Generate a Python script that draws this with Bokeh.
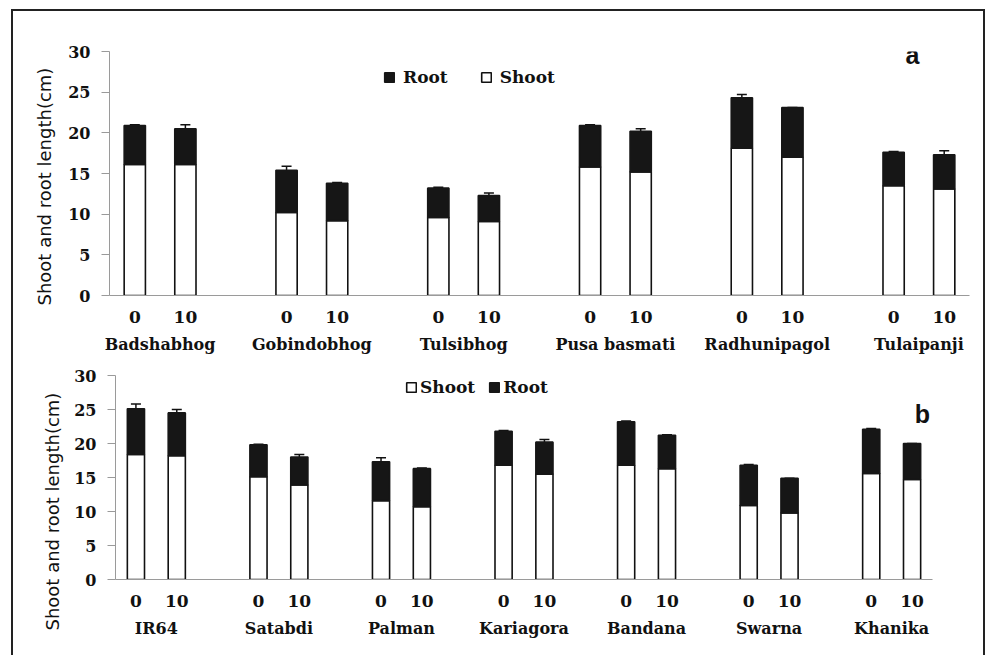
from bokeh.plotting import figure
from bokeh.models import (FactorRange, Whisker, TeeHead, ColumnDataSource, Legend,
                          LegendItem, Label, FixedTicker, Title)
from bokeh.layouts import column, row
from bokeh.embed import file_html
from bokeh.resources import INLINE

# ---------------- data ----------------
doses = ["0", "10"]
y_ticks = [0, 5, 10, 15, 20, 25, 30]
y_title = "Shoot and root length(cm)"

groups_a = ["Badshabhog", "Gobindobhog", "Tulsibhog", "Pusa basmati", "Radhunipagol", "Tulaipanji"]
shoot_a = [16.1, 16.1, 10.2, 9.2, 9.6, 9.1, 15.8, 15.2, 18.1, 17.0, 13.5, 13.1]
root_a = [4.8, 4.4, 5.2, 4.6, 3.6, 3.2, 5.1, 5.0, 6.2, 6.1, 4.1, 4.2]
shoot_err_a = [0.5, 0.5, 0.5, 0.4, 0.3, 0.5, 0.4, 0.4, 0.7, 0.0, 0.5, 0.3]
total_err_a = [0.1, 0.5, 0.5, 0.1, 0.1, 0.3, 0.1, 0.3, 0.4, 0.0, 0.1, 0.5]

groups_b = ["IR64", "Satabdi", "Palman", "Kariagora", "Bandana", "Swarna", "Khanika"]
shoot_b = [18.4, 18.2, 15.1, 13.9, 11.6, 10.7, 16.8, 15.5, 16.8, 16.3, 10.9, 9.8, 15.6, 14.7]
root_b = [6.7, 6.3, 4.7, 4.1, 5.7, 5.6, 5.0, 4.7, 6.4, 4.9, 5.9, 5.1, 6.5, 5.3]
shoot_err_b = [0.9, 0.7, 0.0, 0.8, 0.6, 0.4, 0.5, 0.4, 0.0, 0.3, 0.5, 0.0, 0.0, 0.0]
total_err_b = [0.7, 0.5, 0.1, 0.4, 0.6, 0.1, 0.1, 0.4, 0.1, 0.1, 0.1, 0.0, 0.1, 0.0]

SERIF = "DejaVu Serif"


def make_panel(groups, shoot, root, shoot_err, total_err, width, height, borders,
               legend_order, legend_loc, legend_standoff, legend_spacing, tag, tag_xy,
               title_standoff, title_offset):
    factors = [(g, d) for g in groups for d in doses]
    total = [s + r for s, r in zip(shoot, root)]
    src = ColumnDataSource(dict(
        x=factors, shoot=shoot, root=root, total=total,
        shoot_lo=[s - e for s, e in zip(shoot, shoot_err)],
        total_hi=[t + e for t, e in zip(total, total_err)],
    ))
    xr = FactorRange(*factors, factor_padding=0, group_padding=1, range_padding=0)
    p = figure(x_range=xr, y_range=(0, 30), width=width, height=height,
               output_backend="svg", toolbar_location=None,
               min_border_left=borders[0], min_border_right=borders[1],
               min_border_top=borders[2], min_border_bottom=borders[3])
    p.outline_line_color = None
    p.xgrid.grid_line_color = None
    p.ygrid.grid_line_color = None
    p.background_fill_color = "white"
    p.border_fill_color = "white"

    shoot_r = p.vbar(x="x", top="shoot", bottom=0, width=0.42, source=src,
                     fill_color="white", line_color="#111111", line_width=1.6)
    root_r = p.vbar(x="x", top="total", bottom="shoot", width=0.42, source=src,
                    fill_color="#161616", line_color="#161616", line_width=1.6)

    p.add_layout(Whisker(base="x", upper="shoot", lower="shoot_lo", source=src,
                         upper_head=None, lower_head=TeeHead(size=10, line_width=1.5, line_color="#111"),
                         line_width=1.5, line_color="#111"))
    p.add_layout(Whisker(base="x", upper="total_hi", lower="total", source=src,
                         lower_head=None, upper_head=TeeHead(size=10, line_width=1.5, line_color="#111"),
                         line_width=1.5, line_color="#111"))

    # y axis
    p.yaxis.ticker = FixedTicker(ticks=y_ticks)
    p.yaxis.minor_tick_line_color = None
    p.yaxis.axis_line_color = "#9a9a9a"
    p.yaxis.major_tick_line_color = "#9a9a9a"
    p.yaxis.major_tick_out = 8
    p.yaxis.major_tick_in = 0
    p.yaxis.major_label_text_font = SERIF
    p.yaxis.major_label_text_font_style = "bold"
    p.yaxis.major_label_text_font_size = "16px"
    p.yaxis.major_label_text_color = "#111"
    p.yaxis.major_label_standoff = 11

    p.add_layout(Title(text=y_title, text_font="DejaVu Sans", text_font_style="normal",
                       text_font_size="18px", text_color="#111", align="left",
                       standoff=title_standoff, offset=title_offset), "left")

    # x axis
    p.xaxis.axis_line_color = "#9a9a9a"
    p.xaxis.axis_line_width = 1.2
    p.xaxis.major_tick_line_color = None
    p.xaxis.minor_tick_line_color = None
    p.xaxis.separator_line_color = None
    p.xaxis.major_label_text_font = SERIF
    p.xaxis.major_label_text_font_style = "bold"
    p.xaxis.major_label_text_font_size = "17px"
    p.xaxis.major_label_text_color = "#111"
    p.xaxis.major_label_standoff = 9
    p.xaxis.group_text_font = SERIF
    p.xaxis.group_text_font_style = "bold"
    p.xaxis.group_text_font_size = "16px"
    p.xaxis.group_text_color = "#111"

    rmap = {"Root": root_r, "Shoot": shoot_r}
    legend = Legend(items=[LegendItem(label=k, renderers=[rmap[k]]) for k in legend_order],
                    location=legend_loc, orientation="horizontal",
                    border_line_color=None, background_fill_alpha=0,
                    label_text_font=SERIF, label_text_font_style="bold",
                    label_text_font_size="17px", label_text_color="#111",
                    glyph_width=12, glyph_height=12, label_standoff=legend_standoff,
                    spacing=legend_spacing, padding=0, margin=0)
    p.add_layout(legend)

    p.add_layout(Label(x=tag_xy[0], y=tag_xy[1], text=tag, text_font="Liberation Sans",
                       text_font_style="bold", text_font_size="25px", text_color="#111",
                       text_align="center", text_baseline="middle"))
    return p


pa = make_panel(groups_a, shoot_a, root_a, shoot_err_a, total_err_a,
                width=970, height=347, borders=(96, 14, 40, 63),
                legend_order=["Root", "Shoot"], legend_loc=(274, 208),
                legend_standoff=8, legend_spacing=32,
                tag="a", tag_xy=(15.87, 29.6),
                title_standoff=22, title_offset=-10)
pb = make_panel(groups_b, shoot_b, root_b, shoot_err_b, total_err_b,
                width=970, height=297, borders=(102, 51, 17, 76),
                legend_order=["Shoot", "Root"], legend_loc=(290, 182),
                legend_standoff=3, legend_spacing=13,
                tag="b", tag_xy=(19.75, 24.4),
                title_standoff=18, title_offset=-51)

layout = column(row(pa), row(pb), margin=(9, 0, 0, 11),
                styles={"border-top": "2px solid #222", "border-left": "2px solid #222",
                        "border-right": "2px solid #222"})

with open("out.html", "w") as f:
    f.write(file_html(layout, INLINE))
